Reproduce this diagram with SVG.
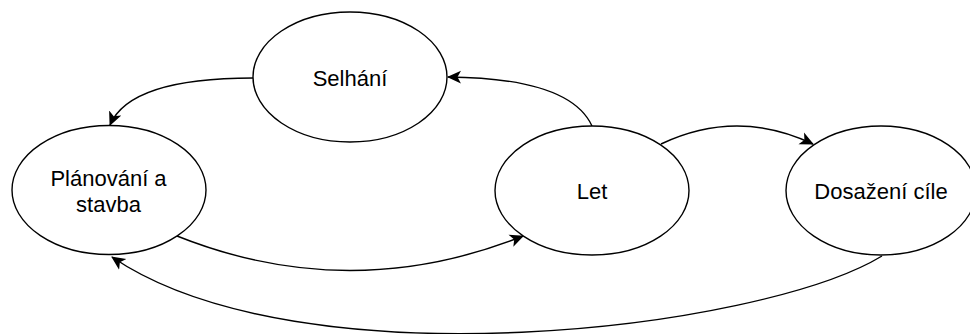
<svg xmlns="http://www.w3.org/2000/svg" width="970" height="334" viewBox="0 0 970 334">
  <style>
    .node ellipse { fill: #ffffff; stroke: #000000; stroke-width: 1.4; }
    .node text { font-family: "Liberation Sans", Arial, Helvetica, sans-serif; font-size: 22px; fill: #000000; text-anchor: middle; }
    .edge { fill: none; stroke: #000000; stroke-width: 1.4; marker-end: url(#arrow); }
  </style>
  <defs>
    <marker id="arrow" markerUnits="userSpaceOnUse" viewBox="0 0 14 14" markerWidth="14" markerHeight="14" refX="13" refY="7" orient="auto">
      <path d="M14,7 L0,0.5 L3.5,7 L0,13.5 Z" fill="#000000" stroke="none"/>
    </marker>
  </defs>
  <rect width="970" height="334" fill="#ffffff"/>
  <g id="connectors">
    <path class="edge" d="M253,78 Q130,78 110,125"/>
    <path class="edge" d="M592,126 Q570,78 448,77"/>
    <path class="edge" d="M661,144 Q737,108 813,144"/>
    <path class="edge" d="M177,236 Q350,305 523,236"/>
    <path class="edge" d="M882,256 C760,330 300,385 112,257"/>
  </g>
  <g id="node-selhani" class="node">
    <ellipse cx="350" cy="77" rx="97" ry="65"/>
    <text x="350" y="86">Selhání</text>
  </g>
  <g id="node-planovani" class="node">
    <ellipse cx="109" cy="190" rx="97" ry="64.5"/>
    <text x="108.5" y="186">Plánování a</text>
    <text x="108.5" y="212">stavba</text>
  </g>
  <g id="node-let" class="node">
    <ellipse cx="592" cy="190.5" rx="97" ry="64.5"/>
    <text x="592" y="199">Let</text>
  </g>
  <g id="node-dosazeni" class="node">
    <ellipse cx="881" cy="190.5" rx="95" ry="64.5"/>
    <text x="881" y="199">Dosažení cíle</text>
  </g>
</svg>
